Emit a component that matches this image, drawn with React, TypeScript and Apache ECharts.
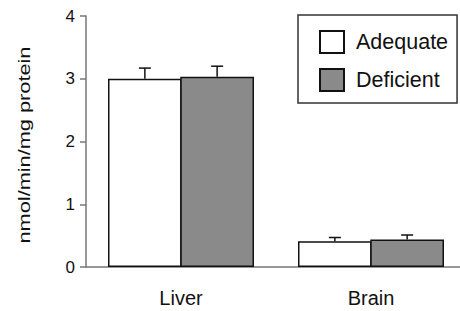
import React, { useEffect, useRef } from "react";
import * as echarts from "echarts";

const categories = ["Liver", "Brain"];
const seriesNames = ["Adequate", "Deficient"];
const adequate = [3.0, 0.41];
const deficient = [3.03, 0.44];
const adequateErr = [0.17, 0.06];
const deficientErr = [0.17, 0.07];
const yTicks = [0, 1, 2, 3, 4];

const FONT = "Liberation Sans, Arial, Helvetica, sans-serif";
const CAT_GAP = 44 / 190;
const BAR_GAP = -0.02;
const BAR_FRAC = (1 - CAT_GAP) / (2 + BAR_GAP);

export default function App() {
  const ref = useRef<HTMLDivElement>(null);
  useEffect(() => {
    document.body.style.margin = "0";
    if (!ref.current) return;
    const chart = echarts.init(ref.current, undefined, { renderer: "svg" });
    const errData: number[][] = [];
    categories.forEach((_, i) => {
      errData.push([i, adequate[i], adequate[i] + adequateErr[i], 0]);
      errData.push([i, deficient[i], deficient[i] + deficientErr[i], 1]);
    });
    chart.setOption({
      animation: false,
      backgroundColor: "#ffffff",
      grid: { left: 86, right: 0, top: 16, bottom: 44, containLabel: false },
      legend: {
        orient: "vertical",
        left: 298,
        top: 15,
        padding: [15, 9, 11, 21],
        itemWidth: 24,
        itemHeight: 22,
        itemGap: 14,
        icon: "rect",
        borderColor: "#333",
        borderWidth: 1.5,
        data: seriesNames,
        textStyle: { fontFamily: FONT, fontSize: 21.5, color: "#111", padding: [0, 0, 0, 7] },
      },
      xAxis: {
        type: "category",
        data: categories,
        axisTick: { show: false },
        axisLine: { lineStyle: { color: "#777", width: 1.5 } },
        axisLabel: { fontFamily: FONT, fontSize: 20, color: "#111", margin: 21 },
      },
      yAxis: {
        type: "value",
        min: 0,
        max: 4,
        interval: 1,
        splitLine: { show: false },
        axisLine: { show: true, lineStyle: { color: "#777", width: 1.5 } },
        axisTick: { show: true, length: 6, lineStyle: { color: "#777", width: 1.5 } },
        axisLabel: {
          fontFamily: FONT,
          fontSize: 17,
          color: "#111",
          margin: 11,
          formatter: (v: number) => (yTicks.includes(v) ? String(v) : ""),
        },
      },
      graphic: [
        {
          type: "text",
          x: 24.5,
          y: 145,
          rotation: Math.PI / 2,
          scaleX: 1.36,
          style: {
            text: "nmol/min/mg protein",
            font: `16px ${FONT}`,
            fill: "#111",
            align: "center",
            verticalAlign: "middle",
          },
        },
      ],
      series: [
        {
          name: seriesNames[0],
          type: "bar",
          data: adequate,
          barGap: `${BAR_GAP * 100}%`,
          barCategoryGap: `${CAT_GAP * 100}%`,
          itemStyle: { color: "#ffffff", borderColor: "#111", borderWidth: 1.5 },
        },
        {
          name: seriesNames[1],
          type: "bar",
          data: deficient,
          barGap: `${BAR_GAP * 100}%`,
          barCategoryGap: `${CAT_GAP * 100}%`,
          itemStyle: { color: "#8a8a8a", borderColor: "#111", borderWidth: 1.5 },
        },
        {
          type: "custom",
          data: errData,
          z: 5,
          renderItem: (params: any, api: any) => {
            const cat = api.value(0);
            const lo = api.coord([cat, api.value(1)]);
            const hi = api.coord([cat, api.value(2)]);
            const band = api.size([1, 0])[0];
            const bw = band * BAR_FRAC;
            const half = (bw * (1 + BAR_GAP)) / 2;
            const off = api.value(3) === 0 ? -half : half;
            const x = lo[0] + off;
            const cap = 6;
            const style = { stroke: "#111", lineWidth: 1.5 };
            return {
              type: "group",
              children: [
                { type: "line", shape: { x1: x, y1: lo[1], x2: x, y2: hi[1] }, style },
                { type: "line", shape: { x1: x - cap, y1: hi[1], x2: x + cap, y2: hi[1] }, style },
              ],
            };
          },
        },
      ],
    });
    return () => chart.dispose();
  }, []);
  return (
    <div style={{ width: 460, height: 311, overflow: "hidden" }}>
      <div ref={ref} style={{ width: 466, height: 311 }} />
    </div>
  );
}
